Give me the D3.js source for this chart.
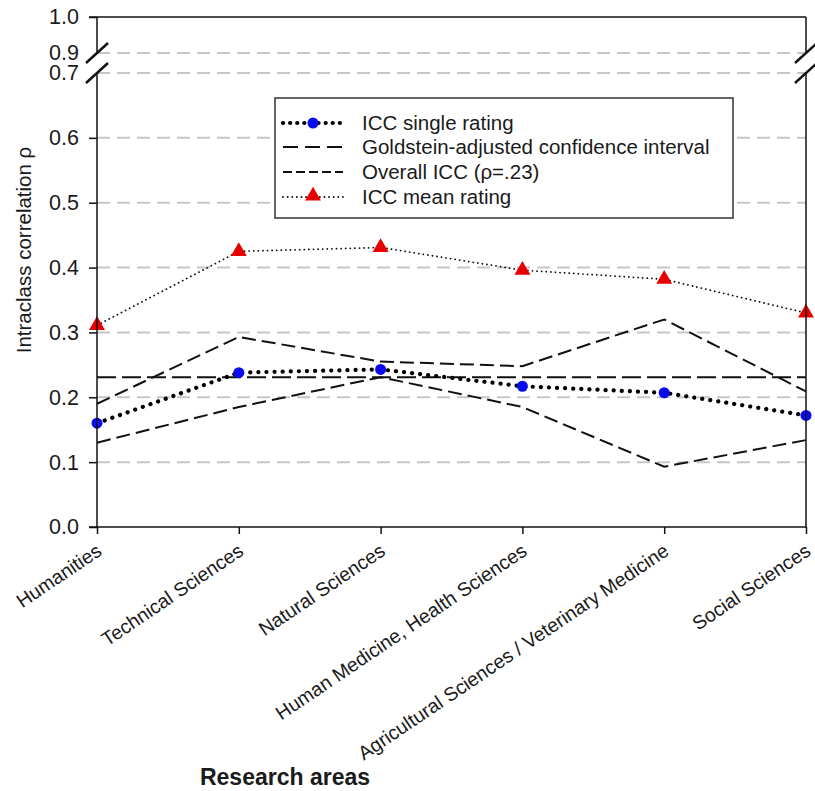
<!DOCTYPE html>
<html>
<head>
<meta charset="utf-8">
<script src="https://cdn.jsdelivr.net/npm/d3@7"></script>
<style>
  body { margin: 0; background: #fff; }
  text { font-family: Arial, "Liberation Sans", sans-serif; fill: #1a1a1a; }
</style>
</head>
<body>
<div id="chart"></div>
<script>
// data
var areas = ["Humanities", "Technical Sciences", "Natural Sciences",
             "Human Medicine, Health Sciences",
             "Agricultural Sciences / Veterinary Medicine", "Social Sciences"];
var iccSingle = [0.160, 0.238, 0.243, 0.217, 0.207, 0.172];
var iccMean   = [0.311, 0.425, 0.431, 0.396, 0.382, 0.330];
var ciUpper   = [0.190, 0.293, 0.255, 0.248, 0.320, 0.209];
var ciLower   = [0.130, 0.185, 0.231, 0.185, 0.093, 0.134];
var overallIcc = 0.231;
var yTicks = [0, 0.1, 0.2, 0.3, 0.4, 0.5, 0.6, 0.7, 0.9, 1.0];
var gridValues = [0.1, 0.2, 0.3, 0.4, 0.5, 0.6, 0.7, 0.9];
var legendLabels = ["ICC single rating", "Goldstein-adjusted confidence interval",
                    "Overall ICC (\u03c1=.23)", "ICC mean rating"];

var width = 815, height = 791;
var plotLeft = 97, plotRight = 806, plotTop = 17, plotBottom = 527;

var svg = d3.select("#chart").append("svg")
    .attr("width", width)
    .attr("height", height);

var x = d3.scalePoint().domain(areas).range([plotLeft, plotRight]);
// broken axis: 0..0.7 then jump to 0.9..1.0
var y = d3.scaleLinear()
    .domain([0, 0.7, 0.9, 1.0])
    .range([plotBottom, 73, 53, plotTop]);

// grid
svg.append("g").selectAll("line")
  .data(gridValues)
  .enter().append("line")
    .attr("x1", plotLeft).attr("x2", plotRight)
    .attr("y1", d => y(d)).attr("y2", d => y(d))
    .attr("stroke", "#c6c6c6")
    .attr("stroke-width", 2)
    .attr("stroke-dasharray", "13 7");

var line = d3.line().x((d, i) => x(areas[i])).y(d => y(d));

// confidence interval
[ciUpper, ciLower].forEach(function(s) {
  svg.append("path")
    .attr("d", line(s))
    .attr("fill", "none")
    .attr("stroke", "#111")
    .attr("stroke-width", 2)
    .attr("stroke-dasharray", "14 6");
});

// overall icc
svg.append("line")
  .attr("x1", plotLeft).attr("x2", plotRight)
  .attr("y1", y(overallIcc)).attr("y2", y(overallIcc))
  .attr("stroke", "#111")
  .attr("stroke-width", 2)
  .attr("stroke-dasharray", "19 6");

// mean rating
svg.append("path")
  .attr("d", line(iccMean))
  .attr("fill", "none")
  .attr("stroke", "#111")
  .attr("stroke-width", 1.8)
  .attr("stroke-linecap", "round")
  .attr("stroke-dasharray", "0.1 4.5");

// single rating
svg.append("path")
  .attr("d", line(iccSingle))
  .attr("fill", "none")
  .attr("stroke", "#000")
  .attr("stroke-width", 4.2)
  .attr("stroke-linecap", "round")
  .attr("stroke-dasharray", "0.1 8");

var tri = d3.symbol().type(d3.symbolTriangle).size(110);

svg.append("g").selectAll("path")
  .data(iccMean)
  .enter().append("path")
    .attr("d", tri)
    .attr("transform", (d, i) => "translate(" + x(areas[i]) + "," + y(d) + ")")
    .attr("fill", "#e60000");

svg.append("g").selectAll("circle")
  .data(iccSingle)
  .enter().append("circle")
    .attr("cx", (d, i) => x(areas[i]))
    .attr("cy", d => y(d))
    .attr("r", 5.5)
    .attr("fill", "#0a0aee");

// axes
var yAxis = d3.axisLeft(y)
    .tickValues(yTicks)
    .tickSize(8)
    .tickPadding(10)
    .tickFormat(d3.format(".1f"));

var gy = svg.append("g")
    .attr("transform", "translate(" + plotLeft + ",0)")
    .call(yAxis);
gy.select(".domain").remove();
gy.selectAll(".tick line")
    .attr("stroke", "#111").attr("stroke-width", 1.5)
    .filter(d => d == 0.7 || d == 0.9).remove();
gy.selectAll(".tick text")
    .style("font-size", "21.5px")
    .attr("font-family", null);

var gx = svg.append("g")
    .attr("transform", "translate(0," + plotBottom + ")")
    .call(d3.axisBottom(x).tickSize(7).tickFormat(""));
gx.select(".domain").remove();
gx.selectAll(".tick line").attr("stroke", "#111").attr("stroke-width", 1.5);

var frame = svg.append("g")
    .attr("stroke", "#111")
    .attr("stroke-width", 1.5)
    .attr("fill", "none");

// bottom and top lines
frame.append("line").attr("x1", plotLeft - 8).attr("x2", plotRight).attr("y1", plotBottom).attr("y2", plotBottom);
frame.append("line").attr("x1", plotLeft - 8).attr("x2", plotRight).attr("y1", plotTop).attr("y2", plotTop);

// vertical lines, broken between 0.9 and 0.7
[plotLeft, plotRight].forEach(function(xx) {
  frame.append("line").attr("x1", xx).attr("x2", xx).attr("y1", plotTop).attr("y2", y(0.9));
  frame.append("line").attr("x1", xx).attr("x2", xx).attr("y1", y(0.7)).attr("y2", plotBottom);
  [0.9, 0.7].forEach(function(v) {
    frame.append("line")
      .attr("x1", xx - 11).attr("y1", y(v) + 10)
      .attr("x2", xx + 11).attr("y2", y(v) - 10)
      .attr("stroke-width", 2.5);
  });
});

// x labels
svg.append("g").selectAll("text")
  .data(areas)
  .enter().append("text")
    .attr("transform", d => "translate(" + (x(d) + 6) + ",554) rotate(-34)")
    .attr("text-anchor", "end")
    .style("font-size", "19.5px")
    .text(d => d);

svg.append("text")
  .attr("x", 285).attr("y", 785)
  .attr("text-anchor", "middle")
  .style("font-size", "23px")
  .style("font-weight", "bold")
  .text("Research areas");

svg.append("text")
  .attr("transform", "translate(31,250) rotate(-90)")
  .attr("text-anchor", "middle")
  .style("font-size", "20.5px")
  .text("Intraclass correlation \u03c1");

// legend
var lg = svg.append("g");
lg.append("rect")
  .attr("x", 275).attr("y", 98)
  .attr("width", 458).attr("height", 120)
  .attr("fill", "#fff")
  .attr("stroke", "#333")
  .attr("stroke-width", 1.5);

var rowY = [123, 147, 172, 197];
var lx1 = 283, lx2 = 343;

lg.append("line").attr("x1", lx1).attr("x2", lx2).attr("y1", rowY[0]).attr("y2", rowY[0])
  .attr("stroke", "#000").attr("stroke-width", 4.2)
  .attr("stroke-linecap", "round").attr("stroke-dasharray", "0.1 7");
lg.append("circle").attr("cx", (lx1 + lx2) / 2).attr("cy", rowY[0]).attr("r", 5.5).attr("fill", "#0a0aee");

lg.append("line").attr("x1", lx1).attr("x2", lx2).attr("y1", rowY[1]).attr("y2", rowY[1])
  .attr("stroke", "#111").attr("stroke-width", 2).attr("stroke-dasharray", "15 7");

lg.append("line").attr("x1", lx1).attr("x2", lx2).attr("y1", rowY[2]).attr("y2", rowY[2])
  .attr("stroke", "#111").attr("stroke-width", 2).attr("stroke-dasharray", "9 4");

lg.append("line").attr("x1", lx1).attr("x2", lx2).attr("y1", rowY[3]).attr("y2", rowY[3])
  .attr("stroke", "#111").attr("stroke-width", 1.8)
  .attr("stroke-linecap", "round").attr("stroke-dasharray", "0.1 4.5");
lg.append("path").attr("d", tri)
  .attr("transform", "translate(" + ((lx1 + lx2) / 2) + "," + (rowY[3] - 1) + ")")
  .attr("fill", "#e60000");

lg.selectAll("text.lab")
  .data(legendLabels)
  .enter().append("text")
    .attr("class", "lab")
    .attr("x", 362)
    .attr("y", (d, i) => rowY[i])
    .attr("dy", "0.35em")
    .style("font-size", "20.5px")
    .text(d => d);
</script>
</body>
</html>
